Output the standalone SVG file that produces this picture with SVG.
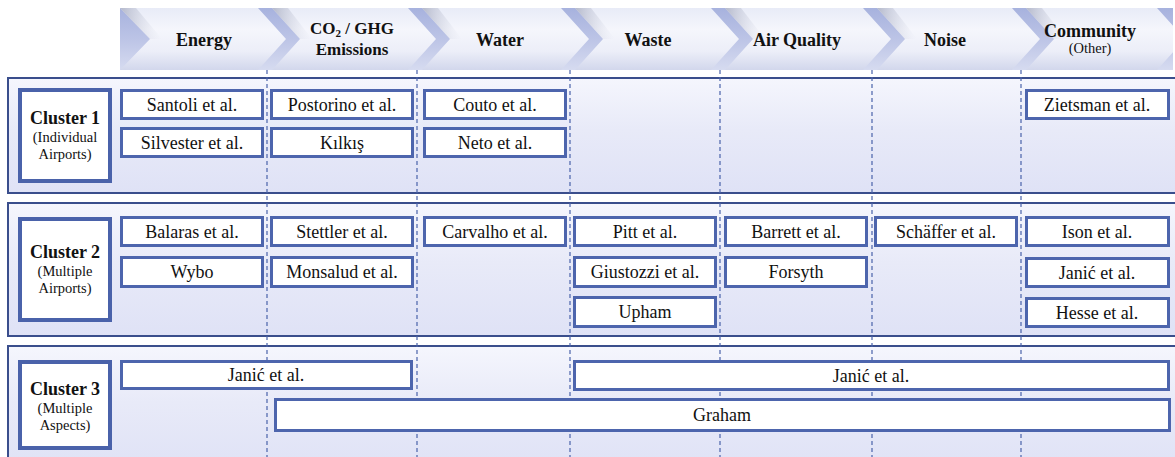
<svg xmlns="http://www.w3.org/2000/svg" width="1175" height="457" viewBox="0 0 1175 457">
<style>
.t{font-family:"Liberation Serif","Times New Roman",serif;font-size:18px;fill:#111;text-anchor:middle}
.h{font-family:"Liberation Serif","Times New Roman",serif;font-size:18px;font-weight:bold;fill:#111;text-anchor:middle}
.h2{font-family:"Liberation Serif","Times New Roman",serif;font-size:17px;font-weight:bold;fill:#111;text-anchor:middle}
.s{font-family:"Liberation Serif","Times New Roman",serif;font-size:14.5px;fill:#111;text-anchor:middle}
.box{fill:#fff;stroke:#4d65ad;stroke-width:3}
.cl{fill:#fff;stroke:#4a62aa;stroke-width:4}
.panel{fill:url(#pg);stroke:#3a4e8c;stroke-width:2}
.chev{fill:url(#cg)}
.band{fill:url(#bg)}
.shade{fill:url(#sg)}
.grid{stroke:#4a63aa;stroke-width:1.2;stroke-dasharray:4 3;fill:none}
</style>
<defs>
<linearGradient id="pg" x1="0" y1="0" x2="0" y2="1">
<stop offset="0" stop-color="#f5f6fd"/>
<stop offset="0.45" stop-color="#e8eaf8"/>
<stop offset="1" stop-color="#dfe2f6"/>
</linearGradient>
<linearGradient id="cg" x1="0" y1="0" x2="0" y2="1">
<stop offset="0" stop-color="#e8ebf7"/>
<stop offset="0.35" stop-color="#f5f6fc"/>
<stop offset="0.7" stop-color="#eceef8"/>
<stop offset="1" stop-color="#d2d7ec"/>
</linearGradient>
<linearGradient id="bg" x1="0" y1="0" x2="0" y2="1">
<stop offset="0" stop-color="#a7b2de"/>
<stop offset="0.5" stop-color="#bcc4e6"/>
<stop offset="1" stop-color="#d6dbf0"/>
</linearGradient>
<linearGradient id="sg" x1="0" y1="0" x2="1" y2="0">
<stop offset="0" stop-color="#9ea3b8" stop-opacity="0.7"/>
<stop offset="1" stop-color="#d8dbe8" stop-opacity="0"/>
</linearGradient>
<clipPath id="hc"><rect x="120" y="8" width="1053" height="62"/></clipPath>
</defs>
<rect width="1175" height="457" fill="#fff"/>

<g id="header" clip-path="url(#hc)">
<rect class="band" x="120" y="8" width="1053" height="62"/>
<polygon class="chev" points="120,8 258,8 286,39 258,70 120,70 150,39"/>
<polygon class="chev" points="272,8 408,8 436,39 408,70 272,70 300,39"/>
<polygon class="chev" points="422,8 561,8 589,39 561,70 422,70 450,39"/>
<polygon class="chev" points="575,8 711,8 739,39 711,70 575,70 603,39"/>
<polygon class="chev" points="725,8 863,8 891,39 863,70 725,70 753,39"/>
<polygon class="chev" points="877,8 1012,8 1040,39 1012,70 877,70 905,39"/>
<polygon class="chev" points="1026,8 1157,8 1185,39 1157,70 1026,70 1054,39"/>
<polygon class="shade" points="120,8 136,8 162,39 150,39"/>
<polygon class="shade" points="272,8 288,8 312,39 300,39"/>
<polygon class="shade" points="422,8 438,8 462,39 450,39"/>
<polygon class="shade" points="575,8 591,8 615,39 603,39"/>
<polygon class="shade" points="725,8 741,8 765,39 753,39"/>
<polygon class="shade" points="877,8 893,8 917,39 905,39"/>
<polygon class="shade" points="1026,8 1042,8 1066,39 1054,39"/>
</g>
<g id="header-labels">
<text class="h" x="204" y="46">Energy</text>
<text class="h2" x="352" y="34">CO<tspan font-size="11" dy="3">2</tspan><tspan dy="-3"> / GHG</tspan></text>
<text class="h2" x="352" y="55">Emissions</text>
<text class="h" x="500" y="46">Water</text>
<text class="h" x="648" y="46">Waste</text>
<text class="h" x="797" y="46">Air Quality</text>
<text class="h" x="945" y="46">Noise</text>
<text class="h" x="1090" y="37">Community</text>
<text class="s" x="1090" y="53">(Other)</text>
</g>

<g id="panels">
<rect class="panel" x="8" y="78" width="1172" height="115"/>
<rect class="panel" x="8" y="203" width="1172" height="133"/>
<rect class="panel" x="8" y="346" width="1172" height="125"/>
</g>

<g id="gridlines">
<line class="grid" x1="267" y1="70" x2="267" y2="457"/>
<line class="grid" x1="417" y1="70" x2="417" y2="457"/>
<line class="grid" x1="570" y1="70" x2="570" y2="457"/>
<line class="grid" x1="720" y1="70" x2="720" y2="457"/>
<line class="grid" x1="872" y1="70" x2="872" y2="457"/>
<line class="grid" x1="1021" y1="70" x2="1021" y2="457"/>
</g>

<g id="cluster1">
<rect class="cl" x="20" y="90" width="90" height="91"/>
<text class="h" x="65" y="124">Cluster 1</text>
<text class="s" x="65" y="142">(Individual</text>
<text class="s" x="65" y="159">Airports)</text>
</g>
<g id="cluster2">
<rect class="cl" x="20" y="219" width="90" height="101"/>
<text class="h" x="65" y="258">Cluster 2</text>
<text class="s" x="65" y="276">(Multiple</text>
<text class="s" x="65" y="293">Airports)</text>
</g>
<g id="cluster3">
<rect class="cl" x="20" y="362" width="90" height="86"/>
<text class="h" x="65" y="395">Cluster 3</text>
<text class="s" x="65" y="413">(Multiple</text>
<text class="s" x="65" y="430">Aspects)</text>
</g>

<g id="santoli"><rect class="box" x="121.5" y="90.5" width="141" height="28"/><text class="t" x="192" y="110.5">Santoli et al.</text></g>
<g id="silvester"><rect class="box" x="121.5" y="128.5" width="141" height="28"/><text class="t" x="192" y="148.5">Silvester et al.</text></g>
<g id="postorino"><rect class="box" x="271.5" y="90.5" width="141" height="28"/><text class="t" x="342" y="110.5">Postorino et al.</text></g>
<g id="kilkis"><rect class="box" x="271.5" y="128.5" width="141" height="28"/><text class="t" x="342" y="148.5">Kılkış</text></g>
<g id="couto"><rect class="box" x="424.5" y="90.5" width="141" height="28"/><text class="t" x="495" y="110.5">Couto et al.</text></g>
<g id="neto"><rect class="box" x="424.5" y="128.5" width="141" height="28"/><text class="t" x="495" y="148.5">Neto et al.</text></g>
<g id="zietsman"><rect class="box" x="1026.5" y="90.5" width="142" height="28"/><text class="t" x="1097" y="110.5">Zietsman et al.</text></g>

<g id="balaras"><rect class="box" x="121.5" y="217.5" width="141" height="28"/><text class="t" x="192" y="237.5">Balaras et al.</text></g>
<g id="wybo"><rect class="box" x="121.5" y="257.5" width="141" height="29"/><text class="t" x="192" y="278">Wybo</text></g>
<g id="stettler"><rect class="box" x="271.5" y="217.5" width="141" height="28"/><text class="t" x="342" y="237.5">Stettler et al.</text></g>
<g id="monsalud"><rect class="box" x="271.5" y="257.5" width="141" height="29"/><text class="t" x="342" y="278">Monsalud et al.</text></g>
<g id="carvalho"><rect class="box" x="424.5" y="217.5" width="141" height="28"/><text class="t" x="495" y="237.5">Carvalho et al.</text></g>
<g id="pitt"><rect class="box" x="574.5" y="217.5" width="141" height="28"/><text class="t" x="645" y="237.5">Pitt et al.</text></g>
<g id="giustozzi"><rect class="box" x="574.5" y="257.5" width="141" height="29"/><text class="t" x="645" y="278">Giustozzi et al.</text></g>
<g id="upham"><rect class="box" x="574.5" y="297.5" width="141" height="29"/><text class="t" x="645" y="318">Upham</text></g>
<g id="barrett"><rect class="box" x="725.5" y="217.5" width="141" height="28"/><text class="t" x="796" y="237.5">Barrett et al.</text></g>
<g id="forsyth"><rect class="box" x="725.5" y="257.5" width="141" height="29"/><text class="t" x="796" y="278">Forsyth</text></g>
<g id="schaffer"><rect class="box" x="875.5" y="217.5" width="141" height="28"/><text class="t" x="946" y="237.5">Schäffer et al.</text></g>
<g id="ison"><rect class="box" x="1026.5" y="217.5" width="142" height="28"/><text class="t" x="1097" y="237.5">Ison et al.</text></g>
<g id="janic2"><rect class="box" x="1026.5" y="258.5" width="142" height="28"/><text class="t" x="1097" y="278.5">Janić et al.</text></g>
<g id="hesse"><rect class="box" x="1026.5" y="298.5" width="142" height="28"/><text class="t" x="1097" y="318.5">Hesse et al.</text></g>

<g id="janic3a"><rect class="box" x="121.5" y="361.5" width="290" height="27"/><text class="t" x="266" y="381">Janić et al.</text></g>
<g id="janic3b"><rect class="box" x="574.5" y="361.5" width="594" height="28"/><text class="t" x="871" y="381.5">Janić et al.</text></g>
<g id="graham"><rect class="box" x="275.5" y="399.5" width="894" height="31"/><text class="t" x="722" y="421">Graham</text></g>
</svg>
